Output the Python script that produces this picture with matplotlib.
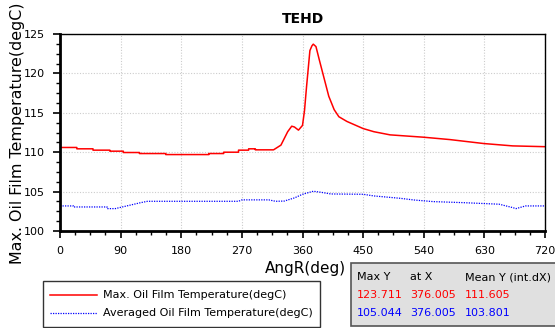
import numpy as np
import matplotlib
matplotlib.use("Agg")
import matplotlib.pyplot as plt
from matplotlib.ticker import MultipleLocator, AutoMinorLocator
from matplotlib.patches import Rectangle
from matplotlib.lines import Line2D

# Max. oil film temperature (red)
max_ang = [0, 25, 25, 49, 49, 74, 74, 94, 94, 118, 118, 157, 157, 221, 221, 243,
           243, 265, 265, 280, 280, 290, 290, 317, 328, 338, 344, 348, 354, 360,
           363, 366, 371, 374, 376, 380, 385, 392, 399, 407, 414, 426, 450, 466,
           490, 540, 579, 629, 672, 720]
max_temp = [110.6, 110.6, 110.43, 110.43, 110.26, 110.26, 110.13, 110.13, 109.96, 109.96,
            109.83, 109.83, 109.7, 109.7, 109.83, 109.83, 110.0, 110.0, 110.26, 110.26,
            110.43, 110.43, 110.3, 110.3, 110.9, 112.6, 113.3, 113.2, 112.8, 113.4,
            115.3, 118.3, 122.9, 123.5, 123.711, 123.4, 121.7, 119.4, 117.1, 115.4,
            114.5, 113.9, 113.0, 112.6, 112.2, 111.9, 111.6, 111.1, 110.8, 110.7]

# Averaged oil film temperature (blue)
avg_ang = [0, 20, 20, 70, 70, 82, 90, 105, 120, 130, 265, 270, 310, 320, 333, 348,
           360, 376, 387, 402, 450, 466, 505, 525, 554, 598, 652, 672, 677, 691, 720]
avg_temp = [103.18, 103.18, 103.05, 103.05, 102.84, 102.84, 103.0, 103.3, 103.6, 103.77,
            103.77, 103.95, 103.95, 103.77, 103.8, 104.2, 104.66, 105.044, 104.92, 104.7,
            104.66, 104.45, 104.15, 103.94, 103.73, 103.6, 103.4, 102.97, 102.84, 103.18,
            103.18]

legend_labels = ["Max. Oil Film Temperature(degC)", "Averaged Oil Film Temperature(degC)"]
stats_header = ["Max Y", "at X", "Mean Y (int.dX)"]
stats_rows = [["123.711", "376.005", "111.605"],
              ["105.044", "376.005", "103.801"]]

red = "#ff0000"
blue = "#0000ff"

fig = plt.figure(figsize=(5.55, 3.28), dpi=100)
W, H = 555, 328
ax = fig.add_axes([60 / W, 1 - 231 / H, 485 / W, 197 / H])

ax.plot(max_ang, max_temp, color=red, lw=1.1)
ax.plot(avg_ang, avg_temp, color=blue, lw=0.9, ls=(0, (1, 1)))

ax.set_xlim(0, 720)
ax.set_ylim(100, 125)
ax.xaxis.set_major_locator(MultipleLocator(90))
ax.yaxis.set_major_locator(MultipleLocator(5))
ax.xaxis.set_minor_locator(AutoMinorLocator(4))
ax.yaxis.set_minor_locator(AutoMinorLocator(4))
ax.grid(True, which="major", color="#cccccc", ls=(0, (1, 1.5)), lw=0.8)
ax.tick_params(which="major", direction="out", length=5, width=1.2, labelsize=8, pad=6)
ax.tick_params(which="minor", direction="out", length=3, width=1)
ax.spines["left"].set_linewidth(2)
ax.spines["bottom"].set_linewidth(2)
ax.spines["top"].set_linewidth(1)
ax.spines["right"].set_linewidth(1)

ax.set_title("TEHD", fontsize=10, fontweight="bold", pad=8)
fig.text(18 / W, 1 - 133 / H, "Max. Oil Film Temperature(degC)", rotation=90,
         ha="center", va="center", fontsize=11.4)
fig.text(305 / W, 1 - 269 / H, "AngR(deg)", ha="center", va="center", fontsize=11)

# legend box
fig.patches.append(Rectangle((43 / W, 1 - 327 / H), 277 / W, 46 / H, transform=fig.transFigure,
                             facecolor="white", edgecolor="#333333", lw=1))
fig.lines.append(Line2D([50 / W, 97 / W], [1 - 295 / H, 1 - 295 / H], transform=fig.transFigure,
                        color=red, lw=1.1))
fig.lines.append(Line2D([50 / W, 97 / W], [1 - 313 / H, 1 - 313 / H], transform=fig.transFigure,
                        color=blue, lw=0.9, ls=(0, (1, 1))))
fig.text(103 / W, 1 - 295 / H, legend_labels[0], fontsize=8, va="center")
fig.text(103 / W, 1 - 313 / H, legend_labels[1], fontsize=8, va="center")

# stats box
fig.patches.append(Rectangle((351 / W, 1 - 326 / H), 210 / W, 63 / H, transform=fig.transFigure,
                             facecolor="#e0e0e0", edgecolor="#555555", lw=1.2))
col_x = [357, 410, 465]
for x, s in zip(col_x, stats_header):
    fig.text(x / W, 1 - 277 / H, s, fontsize=8, va="center")
for row, y, c in zip(stats_rows, [295, 313], [red, blue]):
    for x, s in zip(col_x, row):
        fig.text(x / W, 1 - y / H, s, fontsize=8, va="center", color=c)

fig.savefig("out.png", dpi=100)
